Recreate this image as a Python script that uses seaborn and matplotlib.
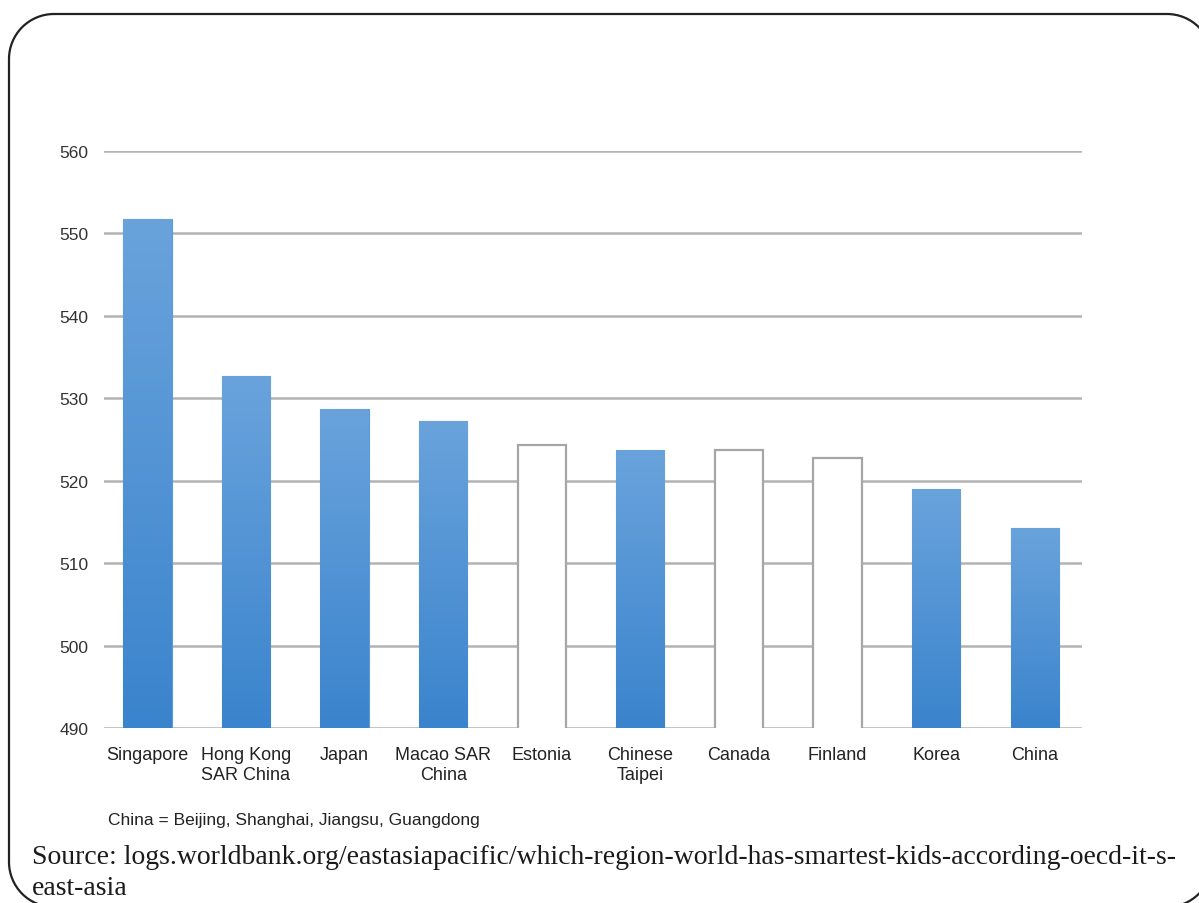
import numpy as np
import pandas as pd
import matplotlib
matplotlib.use("Agg")
import matplotlib.pyplot as plt
from matplotlib.patches import Arc
from matplotlib.colors import LinearSegmentedColormap
import seaborn as sns

# ---- data ----
countries = ["Singapore", "Hong Kong\nSAR China", "Japan", "Macao SAR\nChina", "Estonia",
             "Chinese\nTaipei", "Canada", "Finland", "Korea", "China"]
scores = [551.7, 532.7, 528.7, 527.3, 524.3, 523.7, 523.7, 522.7, 519.0, 514.3]
east_asia = [True, True, True, True, False, True, False, False, True, True]
y_ticks = [490, 500, 510, 520, 530, 540, 550, 560]
footnote = "China = Beijing, Shanghai, Jiangsu, Guangdong"
source_line1 = "Source: logs.worldbank.org/eastasiapacific/which-region-world-has-smartest-kids-according-oecd-it-s-"
source_line2 = "east-asia"

sns.set_theme(style="white")
plt.rcParams["font.family"] = ["Liberation Sans", "DejaVu Sans"]

W, H = 1199, 904
fig = plt.figure(figsize=(W / 100, H / 100), dpi=100)
ax = fig.add_axes([104 / W, 1 - 729 / H, (1082 - 104) / W, (729 - 152) / H])

df = pd.DataFrame({"country": countries, "score": scores})
palette = {c: ("#4f92d6" if e else "white") for c, e in zip(countries, east_asia)}
sns.barplot(data=df, x="country", y="score", hue="country", palette=palette,
            legend=False, width=0.49, ax=ax, saturation=1)

ax.set_ylim(490, 560)
ax.set_xlim(-0.44, 9.48)
ax.set_yticks(y_ticks)
ax.set_yticklabels([str(t) for t in y_ticks], fontsize=12.5, color="#333333")
ax.tick_params(axis="x", labelsize=13, colors="#222222", length=0, pad=13)
ax.tick_params(axis="y", length=0, pad=11)
for lbl in ax.get_xticklabels():
    lbl.set_linespacing(1.25)
ax.set_xlabel("")
ax.set_ylabel("")
ax.yaxis.grid(True, color="#b3b3b3", linewidth=1.8)
ax.set_axisbelow(True)
for s in ax.spines.values():
    s.set_visible(False)

cmap = LinearSegmentedColormap.from_list("bar", ["#3a84cd", "#6aa3dc"])
grad = np.linspace(0, 1, 256).reshape(-1, 1)
for patch, ea in zip(ax.patches, east_asia):
    if ea:
        x0 = patch.get_x()
        w = patch.get_width()
        top = patch.get_y() + patch.get_height()
        patch.set_edgecolor("#5a9ad8")
        patch.set_linewidth(0.8)
        im = ax.imshow(grad, cmap=cmap, aspect="auto", origin="lower",
                       extent=[x0, x0 + w, 490, top], zorder=patch.get_zorder() + 0.1)
        im.set_clip_path(patch)
    else:
        patch.set_facecolor("white")
        patch.set_edgecolor("#a6a6a6")
        patch.set_linewidth(1.6)

# overlay in pixel coordinates (y measured upward) for footer texts and the frame
ov = fig.add_axes([0, 0, 1, 1], zorder=5)
ov.set_xlim(0, W)
ov.set_ylim(0, H)
ov.axis("off")
ov.patch.set_alpha(0)

ov.text(108, H - 821, footnote, fontsize=12.5, color="#222222", ha="left", va="center")
serif = ["Liberation Serif", "DejaVu Serif"]
ov.text(32, H - 858, source_line1, fontsize=20, color="#1a1a1a", family=serif,
        ha="left", va="center")
ov.text(32, H - 889, source_line2, fontsize=20, color="#1a1a1a", family=serif,
        ha="left", va="center")

# rounded frame (right and bottom edges run just past the canvas, as in the original)
L, R, T, B, r = 9, 1212, 15, 908, 45
fc = "#222222"
lw = 1.6
ov.plot([L + r, R - r], [H - T, H - T], color=fc, lw=lw, clip_on=False)
ov.plot([L + r, R - r], [H - B, H - B], color=fc, lw=lw, clip_on=False)
ov.plot([L, L], [H - T - r, H - B + r], color=fc, lw=lw, clip_on=False)
ov.plot([R, R], [H - T - r, H - B + r], color=fc, lw=lw, clip_on=False)
for cx, cy, t1, t2 in [(L + r, H - T - r, 90, 180), (R - r, H - T - r, 0, 90),
                       (L + r, H - B + r, 180, 270), (R - r, H - B + r, 270, 360)]:
    ov.add_patch(Arc((cx, cy), 2 * r, 2 * r, theta1=t1, theta2=t2,
                     color=fc, lw=lw, clip_on=False))

fig.savefig("out.png", dpi=100)
